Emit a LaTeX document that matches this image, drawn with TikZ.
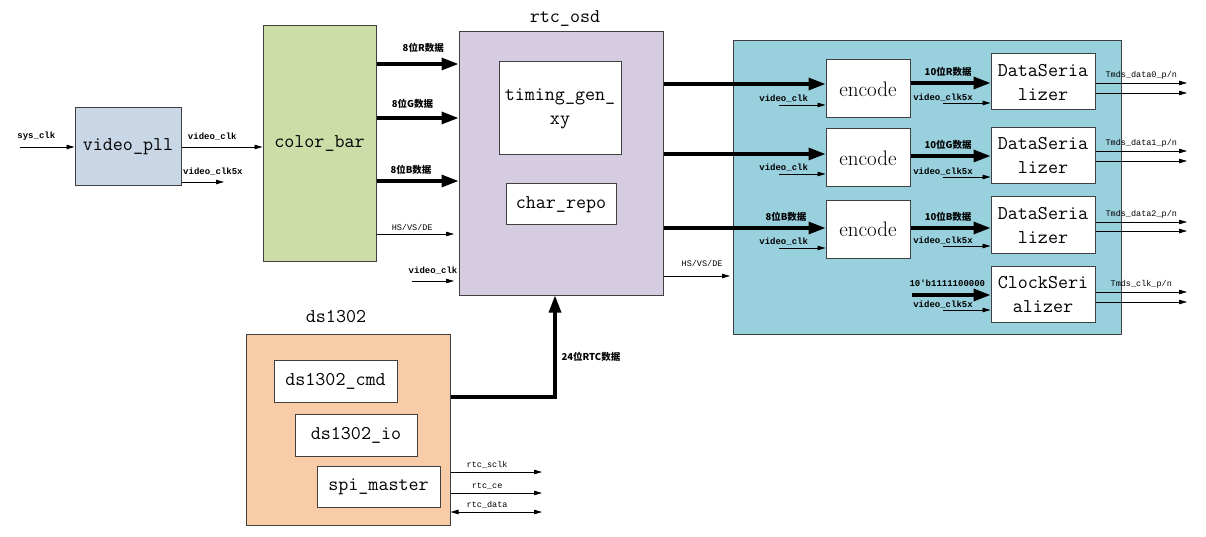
\documentclass[tikz,border=0pt]{standalone}
\usepackage{fontspec}
\newfontfamily\cjk{Noto Sans CJK SC}
\newfontfamily\sigfont{Liberation Mono}
\usetikzlibrary{arrows.meta}

\definecolor{pllcol}{RGB}{201,214,230}
\definecolor{barcol}{RGB}{204,221,168}
\definecolor{osdcol}{RGB}{213,204,226}
\definecolor{hdmicol}{RGB}{153,208,222}
\definecolor{dscol}{RGB}{248,204,166}
\definecolor{edgecol}{RGB}{64,64,64}

\tikzset{
  >={Triangle[length=8pt,width=4.5pt]},
  blk/.style={draw=edgecol, line width=1pt, inner sep=0pt, align=center,
    font=\fontsize{19.5}{24}\selectfont\ttfamily},
  enc/.style={font=\fontsize{21}{24}\selectfont\rmfamily},
  sig/.style={line width=0.8pt, ->},
  bus/.style={line width=3.2pt, -{Triangle[length=17pt,width=12pt]}},
  lbl/.style={inner sep=0pt, font=\fontsize{9}{9}\selectfont\sigfont\bfseries},
  tlbl/.style={inner sep=0pt, font=\fontsize{8.5}{9}\selectfont\sigfont},
  clbl/.style={inner sep=0pt, font=\fontsize{9.5}{10}\selectfont\cjk\bfseries},
}

\begin{document}
\begin{tikzpicture}[x=1pt, y=-1pt]
\useasboundingbox (0,0) rectangle (1206,537);

% pll und color bar
\node[blk, fill=pllcol, minimum width=106, minimum height=78] (pll) at (128,147) {video\_pll};
\node[blk, fill=barcol, minimum width=113, minimum height=235] (cbar) at (319.5,143.5) {color\_bar};

% rtc_osd
\node[blk, fill=osdcol, minimum width=204, minimum height=263] (osd) at (561,163.5) {};
\node[font=\fontsize{19.5}{24}\selectfont\ttfamily, inner sep=0pt] (osdt) at (565,18) {rtc\_osd};
\node[blk, fill=white, minimum width=122, minimum height=93] (tgen) at (560,108.5) {timing\_gen\_\\xy};
\node[blk, fill=white, minimum width=110, minimum height=41] (crepo) at (561,204.5) {char\_repo};

% hdmi
\node[blk, fill=hdmicol, minimum width=388, minimum height=293] (hdmi) at (927,187.5) {};
\foreach \n/\y in {1/89,2/158,3/229.5}
  \node[blk, enc, fill=white, minimum width=84, minimum height=58] (enc\n) at (868,\y) {encode};
\foreach \n/\y/\t in {1/82/DataSeria\\lizer, 2/155.5/DataSeria\\lizer, 3/225/DataSeria\\lizer, 4/294.5/ClockSeri\\alizer}
  \node[blk, fill=white, minimum width=104, minimum height=56] (ser\n) at (1043,\y) {\t};

% ds1302
\node[blk, fill=dscol, minimum width=204, minimum height=191] (ds) at (348,429.5) {};
\node[font=\fontsize{19.5}{24}\selectfont\ttfamily, inner sep=0pt] (dst) at (336,317) {ds1302};
\node[blk, fill=white, minimum width=123, minimum height=42] (cmd) at (335.5,381) {ds1302\_cmd};
\node[blk, fill=white, minimum width=122, minimum height=42] (io) at (356,435) {ds1302\_io};
\node[blk, fill=white, minimum width=123, minimum height=41] (spi) at (378.5,486.5) {spi\_master};

% clocks
\coordinate (sysin) at (20,147);
\draw[sig] (sysin) -- (pll.west) node[lbl, pos=0.3, above=6pt] (sysl) {sys\_clk};
\draw[sig] (pll.east) -- (cbar.west |- pll.east) node[lbl, pos=0.38, above=6pt] (vcl) {video\_clk};
\coordinate (ck5) at (224,182);
\draw[sig] (pll.east |- ck5) -- (ck5) node[lbl, pos=0.74, above=6pt] (ck5l) {video\_clk5x};

% color bar -> rtc_osd
\coordinate (yR) at (0,64);
\coordinate (yG) at (0,118);
\coordinate (yB) at (0,181);
\draw[bus] (cbar.east |- yR) -- (osd.west |- yR) node[clbl, pos=0.57, above=10pt] (rl) {8位R数据};
\draw[bus] (cbar.east |- yG) -- (osd.west |- yG) node[clbl, pos=0.44, above=8pt] (gl) {8位G数据};
\draw[bus] (cbar.east |- yB) -- (osd.west |- yB) node[clbl, pos=0.42, above=5pt] (bl) {8位B数据};
\coordinate (syn) at (454,234);
\draw[sig] (cbar.east |- syn) -- (syn) node[tlbl, pos=0.46, above=3pt] (synl) {HS/VS/DE};
\coordinate (vca) at (412,281);
\coordinate (vcb) at (454,281);
\draw[sig] (vca) -- (vcb) node[lbl, pos=0.5, above=6pt] (vcal) {video\_clk};

% rtc_osd -> encode
\foreach \n/\y in {1/84,2/154,3/228} {
  \coordinate (ye\n) at (0,\y);
  \draw[bus] (osd.east |- ye\n) -- (enc\n.west |- ye\n);
}
\node[clbl] (bl2) at (786,217) {8位B数据};
\coordinate (syo) at (730,276);
\draw[sig] (osd.east |- syo) -- (syo) node[tlbl, pos=0.58, above=9pt] (syol) {HS/VS/DE};
\foreach \n/\y in {1/105,2/174,3/248} {
  \coordinate (vce\n) at (779,\y);
  \draw[sig] (vce\n) -- (enc\n.west |- vce\n) node[lbl, pos=0.1, above=2pt] {video\_clk};
}

% encode -> serializer
\foreach \n/\y/\t in {1/83/R,2/156/G,3/228/B} {
  \coordinate (ys\n) at (0,\y);
  \draw[bus] (enc\n.east |- ys\n) -- (ser\n.west |- ys\n) node[clbl, pos=0.47, above=5pt] {10位\t 数据};
}
\coordinate (ckw) at (912,295);
\draw[bus] (ckw) -- (ser4.west |- ckw) node[lbl, pos=0.45, above=7pt] (ckwl) {10'b1111100000};
\foreach \n/\y in {1/103,2/177,3/246,4/310} {
  \coordinate (c5\n) at (943,\y);
  \draw[sig] (c5\n) -- (ser\n.west |- c5\n) node[lbl, pos=0.0, above=1.5pt] {video\_clk5x};
}

% tmds outputs
\foreach \n/\ya/\yb/\t in {1/83/93/{Tmds\_data0\_p/n}, 2/151/161/{Tmds\_data1\_p/n}, 3/222/231/{Tmds\_data2\_p/n}, 4/292/302/{Tmds\_clk\_p/n}} {
  \coordinate (oa\n) at (1187,\ya);
  \coordinate (ob\n) at (1187,\yb);
  \draw[sig] (ser\n.east |- oa\n) -- (oa\n) node[tlbl, pos=0.5, above=3pt] {\t};
  \draw[sig] (ser\n.east |- ob\n) -- (ob\n);
}

% ds1302 -> rtc_osd
\coordinate (rtcc) at (555,397);
\draw[bus] (ds.east |- rtcc) -- (rtcc) -- (rtcc |- osd.south) node[clbl, pos=0.4, right=5pt] (rtcl) {24位RTC数据};
\coordinate (sclk) at (542,472);
\coordinate (ce) at (542,493);
\coordinate (dat) at (542,512);
\draw[sig] (ds.east |- sclk) -- (sclk) node[tlbl, pos=0.4, above=3pt] (sclkl) {rtc\_sclk};
\draw[sig] (ds.east |- ce) -- (ce) node[tlbl, pos=0.4, above=3pt] (cel) {rtc\_ce};
\draw[sig, <->] (ds.east |- dat) -- (dat) node[tlbl, pos=0.4, above=3pt] (datl) {rtc\_data};

\end{tikzpicture}
\end{document}
